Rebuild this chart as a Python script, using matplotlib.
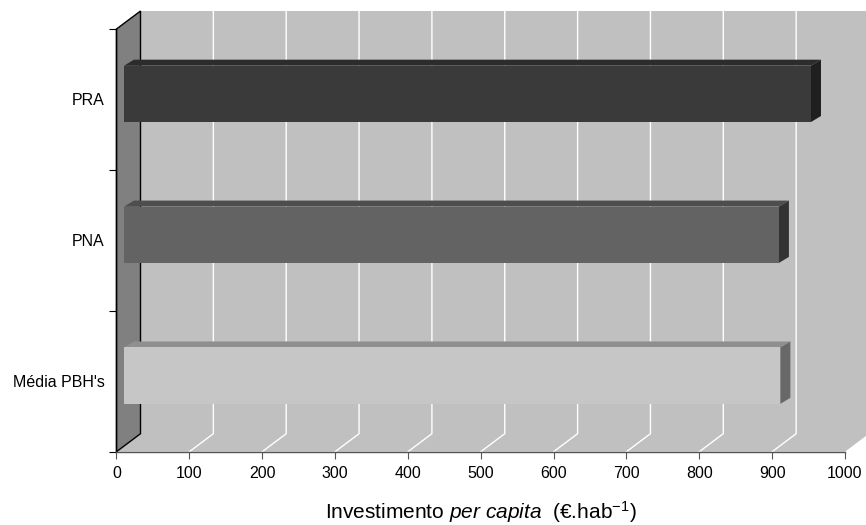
import matplotlib
matplotlib.use("Agg")
import numpy as np
import matplotlib.pyplot as plt
import matplotlib.transforms as mtransforms
from matplotlib.patches import Polygon

plt.rcParams["font.family"] = ["Liberation Sans", "DejaVu Sans"]
plt.rcParams["mathtext.fontset"] = "custom"
plt.rcParams["mathtext.rm"] = "Liberation Sans"
plt.rcParams["mathtext.it"] = "Liberation Sans:italic"

# data (bottom to top)
categories = ["Média PBH's", "PNA", "PRA"]
values = [901, 899, 943]
x_ticks = list(range(0, 1001, 100))

front_colors = ["#c6c6c6", "#636363", "#3a3a3a"]
top_colors = ["#8f8f8f", "#4e4e4e", "#2c2c2c"]
side_colors = ["#686868", "#333333", "#1f1f1f"]

W, H = 866, 525
fig = plt.figure(figsize=(W / 100, H / 100), dpi=100)
ax = fig.add_axes([116.5 / W, 1 - 451.7 / H, (845 - 116.5) / W, (451.7 - 29) / H])
ax.set_xlim(0, 1000)
ax.set_ylim(0, len(categories))
ax.patch.set_visible(False)

# depth offsets in pixels
wall_dx, wall_dy = 24, 18
bar_dx0, bar_dy0 = 7.5, 5.6
bar_dx, bar_dy = 10, 6
bar_h = 0.4

ident = mtransforms.IdentityTransform()


def disp(x, y, dx=0, dy=0):
    p = ax.transData.transform((x, y))
    return (p[0] + dx, p[1] + dy)


def poly(pts, color, z, ec="none", lw=0):
    ax.add_patch(Polygon(pts, closed=True, facecolor=color, edgecolor=ec, lw=lw,
                         transform=ident, clip_on=False, zorder=z))


ymax = len(categories)
# back wall
poly([disp(0, 0, wall_dx, wall_dy), disp(1000, 0, wall_dx, wall_dy),
      disp(1000, ymax, wall_dx, wall_dy), disp(0, ymax, wall_dx, wall_dy)], "#c0c0c0", 0.1)
# floor
poly([disp(0, 0), disp(1000, 0), disp(1000, 0, wall_dx, wall_dy), disp(0, 0, wall_dx, wall_dy)],
     "#c0c0c0", 0.1)
# left wall
poly([disp(0, 0), disp(0, 0, wall_dx, wall_dy), disp(0, ymax, wall_dx, wall_dy), disp(0, ymax)],
     "#808080", 0.2, ec="black", lw=1)

# gridlines: back wall verticals and floor diagonals
for t in x_ticks[1:-1]:
    a = disp(t, 0, wall_dx, wall_dy)
    b = disp(t, ymax, wall_dx, wall_dy)
    c = disp(t, 0)
    ax.plot([c[0], a[0], b[0]], [c[1], a[1], b[1]], color="white", lw=1,
            transform=ident, clip_on=False, zorder=0.3)

# bars
for i, (cat, v) in enumerate(zip(categories, values)):
    y0 = i + 0.5 - bar_h / 2
    y1 = i + 0.5 + bar_h / 2
    f = [disp(0, y0, bar_dx0, bar_dy0), disp(v, y0, bar_dx0, bar_dy0),
         disp(v, y1, bar_dx0, bar_dy0), disp(0, y1, bar_dx0, bar_dy0)]
    bx, by = bar_dx0 + bar_dx, bar_dy0 + bar_dy
    top = [disp(0, y1, bar_dx0, bar_dy0), disp(v, y1, bar_dx0, bar_dy0),
           disp(v, y1, bx, by), disp(0, y1, bx, by)]
    side = [disp(v, y0, bar_dx0, bar_dy0), disp(v, y0, bx, by),
            disp(v, y1, bx, by), disp(v, y1, bar_dx0, bar_dy0)]
    poly(top, top_colors[i], 1 + i)
    poly(side, side_colors[i], 1 + i)
    poly(f, front_colors[i], 1 + i)

# axes
for s in ["top", "right"]:
    ax.spines[s].set_visible(False)
ax.spines["left"].set_color("black")
ax.spines["left"].set_linewidth(1)
ax.spines["bottom"].set_color("#555555")
ax.spines["bottom"].set_linewidth(1)
ax.spines["left"].set_zorder(0.5)

ax.set_xticks(x_ticks)
ax.set_xticklabels([str(t) for t in x_ticks], fontsize=11.5)
ax.tick_params(axis="x", direction="out", length=5, color="#555555", pad=5)

ax.set_yticks(np.arange(0, ymax + 1))
ax.set_yticklabels([])
ax.set_yticks(np.arange(ymax) + 0.5, minor=True)
ax.set_yticklabels(categories, minor=True, fontsize=11.5)
ax.tick_params(axis="y", which="major", direction="out", length=5, color="black")
ax.tick_params(axis="y", which="minor", length=0, pad=8.5)

ax.set_xlabel(r"Investimento $\it{per\ capita}$  (€.hab$^{-1}$)", fontsize=15, labelpad=13)

fig.savefig("out.png", dpi=100)
